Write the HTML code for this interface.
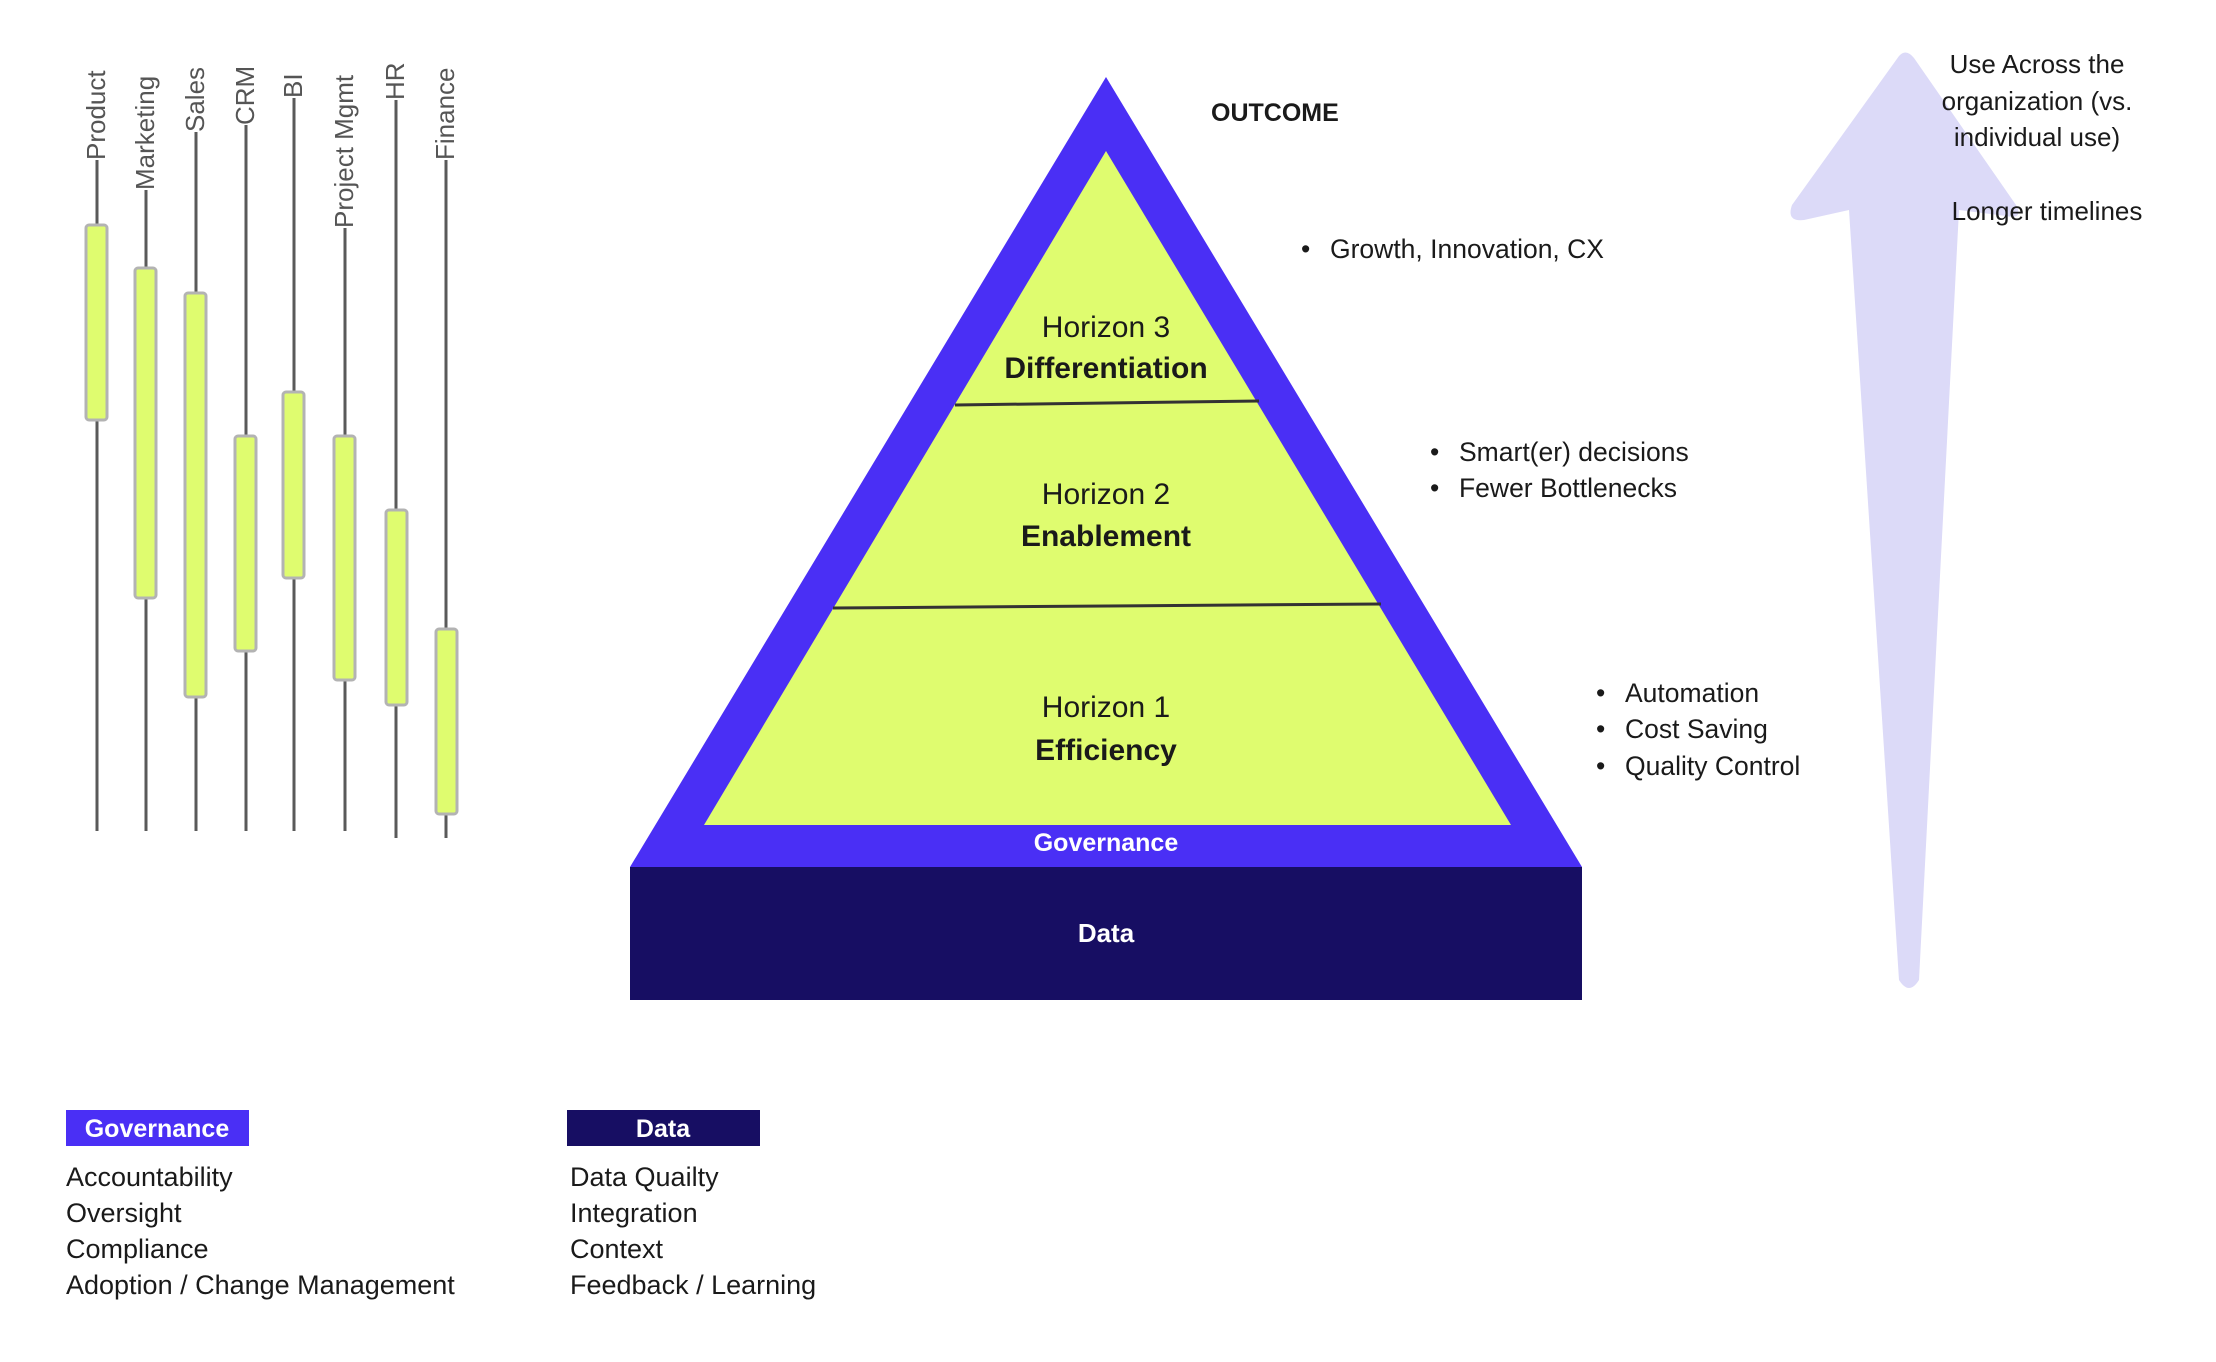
<!DOCTYPE html>
<html><head><meta charset="utf-8"><style>
html,body{margin:0;padding:0;background:#fff;}
svg{display:block;font-family:"Liberation Sans",sans-serif;}
</style></head><body>
<svg width="2216" height="1362" viewBox="0 0 2216 1362" xmlns="http://www.w3.org/2000/svg">
<!-- arrow -->
<path d="M1899,56 Q1906,48 1914,58 L2016,205 Q2024,220 2006,216 L1959,210 L1919,980 Q1909,996 1899,980 L1849,210 L1804,220 Q1786,222 1792,205 Z" fill="#dcdaf8"/>
<g font-size="26" fill="#1a1a1a" text-anchor="middle">
<text x="2037" y="73">Use Across the</text>
<text x="2037" y="110">organization (vs.</text>
<text x="2037" y="146">individual use)</text>
<text x="2047" y="220">Longer timelines</text>
</g>
<!-- swimlanes -->
<g stroke="#5a5a5a" stroke-width="3">
<line x1="97" y1="160" x2="97" y2="831"/>
<line x1="146" y1="190" x2="146" y2="831"/>
<line x1="196" y1="132" x2="196" y2="831"/>
<line x1="246" y1="125" x2="246" y2="831"/>
<line x1="294" y1="98" x2="294" y2="831"/>
<line x1="345" y1="228" x2="345" y2="831"/>
<line x1="396" y1="100" x2="396" y2="838"/>
<line x1="446" y1="160" x2="446" y2="838"/>
</g>
<g fill="#dffc6f" stroke="#b3b3b3" stroke-width="3">
<rect x="86" y="225" width="21" height="195" rx="3"/>
<rect x="135" y="268" width="21" height="330" rx="3"/>
<rect x="185" y="293" width="21" height="404" rx="3"/>
<rect x="235" y="436" width="21" height="215" rx="3"/>
<rect x="283" y="392" width="21" height="186" rx="3"/>
<rect x="334" y="436" width="21" height="244" rx="3"/>
<rect x="386" y="510" width="21" height="195" rx="3"/>
<rect x="436" y="629" width="21" height="185" rx="3"/>
</g>
<g font-size="26" fill="#555" text-anchor="start">
<text transform="translate(105,160) rotate(-90)">Product</text>
<text transform="translate(154,190) rotate(-90)">Marketing</text>
<text transform="translate(204,132) rotate(-90)">Sales</text>
<text transform="translate(254,125) rotate(-90)">CRM</text>
<text transform="translate(302,98) rotate(-90)">BI</text>
<text transform="translate(353,228) rotate(-90)">Project Mgmt</text>
<text transform="translate(404,100) rotate(-90)">HR</text>
<text transform="translate(454,160) rotate(-90)">Finance</text>
</g>
<!-- pyramid -->
<polygon points="1106,77 1582,867 630,867" fill="#4a2ff5"/>
<polygon points="1106,151 1511,825 704,825" fill="#dffc6f"/>
<rect x="630" y="867" width="952" height="133" fill="#170e63"/>
<line x1="955" y1="405" x2="1259" y2="401" stroke="#333" stroke-width="3"/>
<line x1="833" y1="608" x2="1381" y2="604" stroke="#333" stroke-width="3"/>
<g text-anchor="middle" font-size="30" fill="#1a1a1a">
<text x="1106" y="337">Horizon 3</text>
<text x="1106" y="378" font-weight="bold">Differentiation</text>
<text x="1106" y="504">Horizon 2</text>
<text x="1106" y="546" font-weight="bold">Enablement</text>
<text x="1106" y="717">Horizon 1</text>
<text x="1106" y="760" font-weight="bold">Efficiency</text>
<text x="1106" y="851" font-size="25" font-weight="bold" fill="#fff">Governance</text>
<text x="1106" y="942" font-size="26" font-weight="bold" fill="#fff">Data</text>
</g>
<text x="1211" y="121" font-size="25" font-weight="bold" fill="#1a1a1a">OUTCOME</text>
<g font-size="26.5" fill="#1a1a1a">
<text x="1301" y="258">•</text><text x="1330" y="258">Growth, Innovation, CX</text>
<text x="1430" y="461">•</text><text x="1459" y="461">Smart(er) decisions</text>
<text x="1430" y="497">•</text><text x="1459" y="497">Fewer Bottlenecks</text>
<text x="1596" y="702">•</text><text x="1625" y="702">Automation</text>
<text x="1596" y="738">•</text><text x="1625" y="738">Cost Saving</text>
<text x="1596" y="775">•</text><text x="1625" y="775">Quality Control</text>
</g>
<!-- legend -->
<rect x="66" y="1110" width="183" height="36" fill="#4a2ff5"/>
<text x="157" y="1137" text-anchor="middle" font-size="25" font-weight="bold" fill="#fff">Governance</text>
<rect x="567" y="1110" width="193" height="36" fill="#170e63"/>
<text x="663" y="1137" text-anchor="middle" font-size="25" font-weight="bold" fill="#fff">Data</text>
<g font-size="27" fill="#1a1a1a">
<text x="66" y="1186">Accountability</text>
<text x="66" y="1222">Oversight</text>
<text x="66" y="1258">Compliance</text>
<text x="66" y="1294">Adoption / Change Management</text>
<text x="570" y="1186">Data Quailty</text>
<text x="570" y="1222">Integration</text>
<text x="570" y="1258">Context</text>
<text x="570" y="1294">Feedback / Learning</text>
</g>
</svg>
</body></html>
